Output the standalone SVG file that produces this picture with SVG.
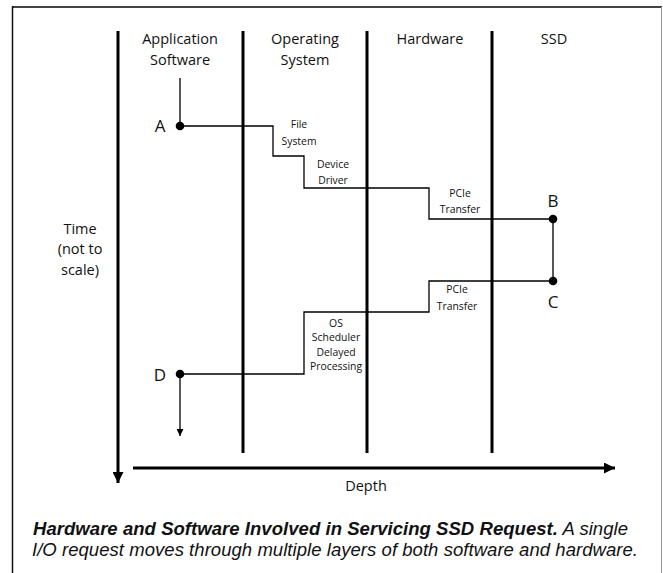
<svg xmlns="http://www.w3.org/2000/svg" width="663" height="573" viewBox="0 0 663 573">
  <style>
    .lane { stroke: #000; stroke-width: 3; fill: none; }
    .flow { stroke: #000; stroke-width: 1.3; fill: none; }
    .hdr { font-family: "Open Sans", "Noto Sans", sans-serif; font-size: 14.5px; fill: #111; text-anchor: middle; }
    .lbl { font-family: "Open Sans", "Noto Sans", sans-serif; font-size: 10.4px; fill: #111; text-anchor: middle; }
    .pt { font-family: "Open Sans", "Noto Sans", sans-serif; font-size: 17px; fill: #111; text-anchor: middle; }
    .cap { font-family: "Liberation Sans", Arial, sans-serif; font-size: 18.5px; font-style: italic; fill: #111; }
  </style>
  <defs>
    <marker id="bigHead" viewBox="0 0 10 10" refX="10" refY="5" markerWidth="11" markerHeight="11" markerUnits="userSpaceOnUse" orient="auto">
      <path d="M0,0 L10,5 L0,10 Z" fill="#000"/>
    </marker>
    <marker id="smallHead" viewBox="0 0 10 10" refX="10" refY="5" markerWidth="7" markerHeight="7" markerUnits="userSpaceOnUse" orient="auto">
      <path d="M0,0 L10,5 L0,10 Z" fill="#000"/>
    </marker>
  </defs>

  <rect width="663" height="573" fill="#fff"/>

  <!-- frame -->
  <g id="frame">
    <line x1="12" y1="7" x2="662" y2="7" stroke="#444" stroke-width="2"/>
    <line x1="12.5" y1="6" x2="12.5" y2="573" stroke="#111" stroke-width="1.5"/>
    <line x1="661.5" y1="7" x2="661.5" y2="573" stroke="#999" stroke-width="1"/>
  </g>

  <!-- axes and lane separators -->
  <g id="axes">
    <line class="lane" x1="118" y1="31" x2="118" y2="483" marker-end="url(#bigHead)"/>
    <line class="lane" x1="133" y1="468" x2="615" y2="468" marker-end="url(#bigHead)"/>
    <line class="lane" x1="243" y1="31" x2="243" y2="453"/>
    <line class="lane" x1="367" y1="31" x2="367" y2="453"/>
    <line class="lane" x1="492" y1="31" x2="492" y2="453"/>
    <text class="hdr" x="80" y="234">Time</text>
    <text class="hdr" x="80" y="254">(not to</text>
    <text class="hdr" x="80" y="275">scale)</text>
    <text class="hdr" x="366" y="491">Depth</text>
  </g>

  <!-- lane headers -->
  <g id="lane-app">
    <text class="hdr" x="180" y="44">Application</text>
    <text class="hdr" x="180" y="65">Software</text>
  </g>
  <g id="lane-os">
    <text class="hdr" x="305" y="44">Operating</text>
    <text class="hdr" x="305" y="65">System</text>
  </g>
  <g id="lane-hw">
    <text class="hdr" x="430" y="44">Hardware</text>
  </g>
  <g id="lane-ssd">
    <text class="hdr" x="554" y="44">SSD</text>
  </g>

  <!-- request path -->
  <g id="connectors">
    <path class="flow" d="M180,78 V126 H273 V156 H304 V188 H429 V219 H553 V281 H429 V312 H304 V374 H180"/>
    <line class="flow" x1="180" y1="374" x2="180" y2="436" marker-end="url(#smallHead)"/>
  </g>

  <!-- stage labels -->
  <g id="stage-fs">
    <text class="lbl" x="299" y="128">File</text>
    <text class="lbl" x="299" y="145">System</text>
  </g>
  <g id="stage-driver">
    <text class="lbl" x="333" y="168">Device</text>
    <text class="lbl" x="333" y="184">Driver</text>
  </g>
  <g id="stage-pcie-out">
    <text class="lbl" x="460" y="197">PCIe</text>
    <text class="lbl" x="460" y="213">Transfer</text>
  </g>
  <g id="stage-pcie-back">
    <text class="lbl" x="457" y="293">PCIe</text>
    <text class="lbl" x="457" y="310">Transfer</text>
  </g>
  <g id="stage-sched">
    <text class="lbl" x="336" y="327">OS</text>
    <text class="lbl" x="336" y="341">Scheduler</text>
    <text class="lbl" x="336" y="356">Delayed</text>
    <text class="lbl" x="336" y="370">Processing</text>
  </g>

  <!-- points -->
  <g id="point-a">
    <circle cx="180" cy="126" r="4.3"/>
    <text class="pt" x="160" y="132">A</text>
  </g>
  <g id="point-b">
    <circle cx="553" cy="219" r="4.3"/>
    <text class="pt" x="553" y="207">B</text>
  </g>
  <g id="point-c">
    <circle cx="553" cy="281" r="4.3"/>
    <text class="pt" x="553" y="308">C</text>
  </g>
  <g id="point-d">
    <circle cx="180" cy="374" r="4.3"/>
    <text class="pt" x="160" y="381">D</text>
  </g>

  <!-- caption -->
  <g id="caption">
    <text class="cap" x="33" y="535" textLength="595"><tspan font-weight="bold">Hardware and Software Involved in Servicing SSD Request.</tspan> A single</text>
    <text class="cap" x="32" y="556" textLength="606">I/O request moves through multiple layers of both software and hardware.</text>
  </g>
</svg>
